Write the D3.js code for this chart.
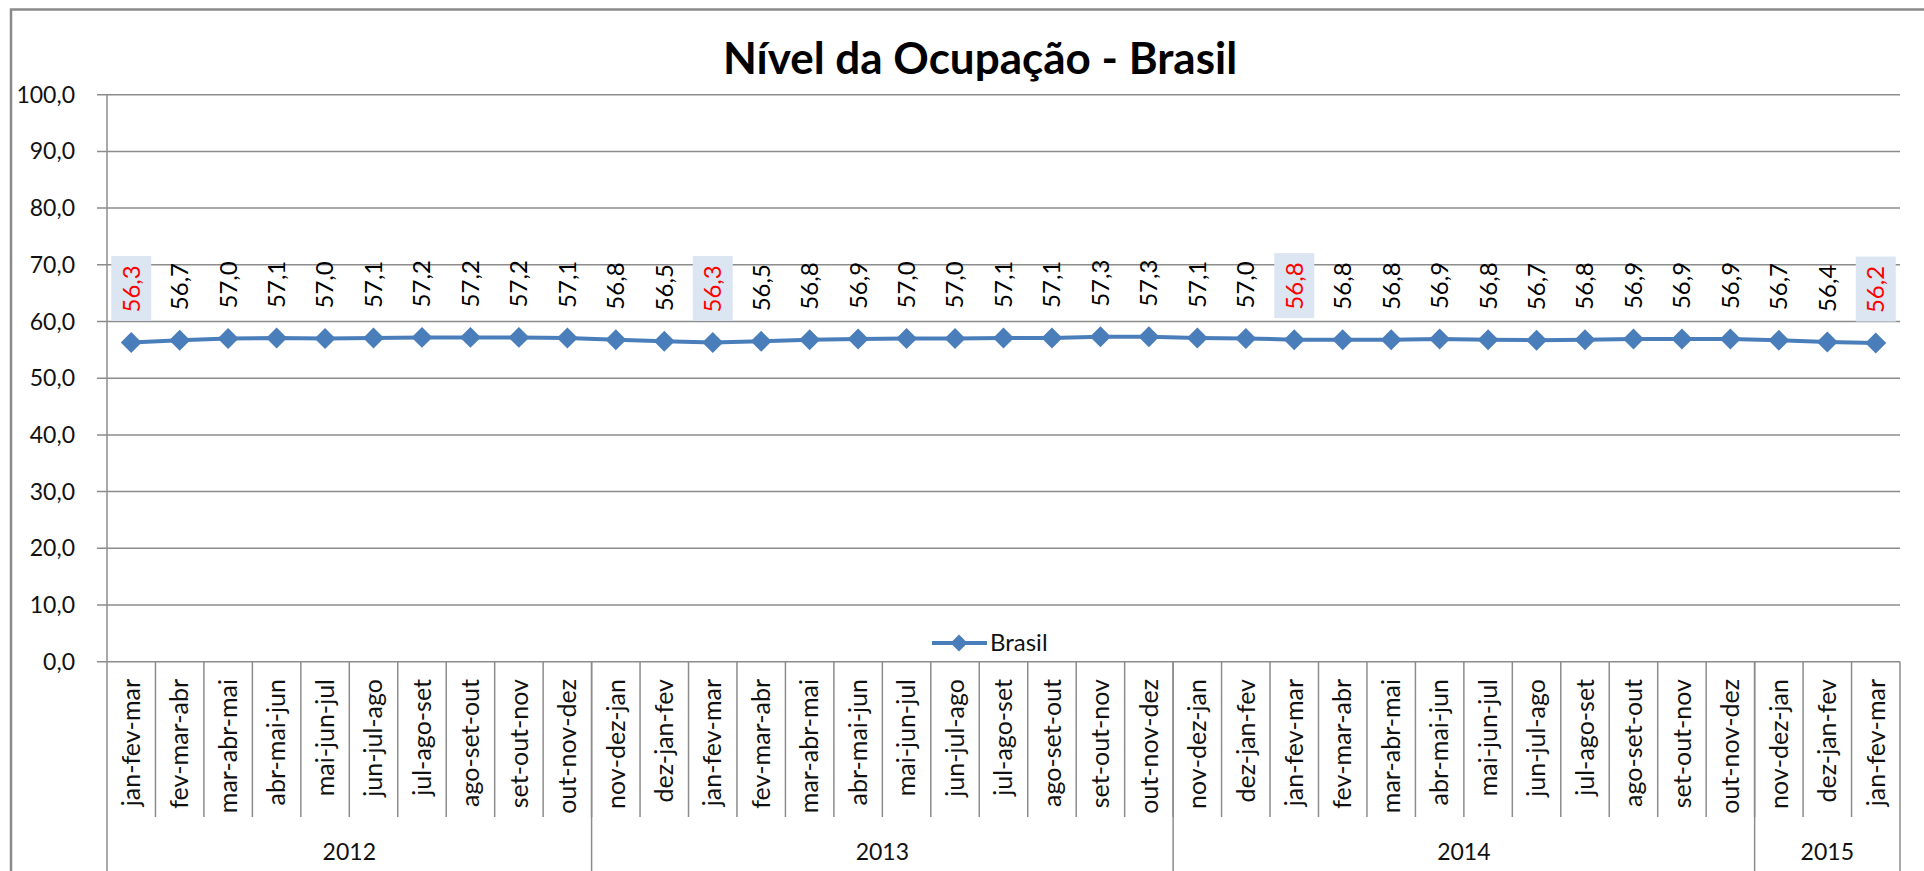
<!DOCTYPE html>
<html>
<head>
    <meta charset="utf-8">
    <title>Nível da Ocupação - Brasil</title>
    <script src="https://d3js.org/d3.v7.min.js"></script>
    <style>
        body { margin: 0; background: #fff; }
        svg { display: block; font-family: Lato, "Open Sans", sans-serif; }
        .grid line { stroke: #8c8c8c; stroke-width: 1.5px; }
        .ylabel { font-size: 23px; fill: #111; }
        .catlabel { font-size: 25px; fill: #111; }
        .yearlabel { font-size: 23px; fill: #111; }
        .vlabel { font-size: 24px; }
    </style>
</head>
<body>
<div id="chart"></div>
<script>
    // dados
    const categorias = [
        "jan-fev-mar", "fev-mar-abr", "mar-abr-mai", "abr-mai-jun", "mai-jun-jul", "jun-jul-ago",
        "jul-ago-set", "ago-set-out", "set-out-nov", "out-nov-dez",
        "nov-dez-jan", "dez-jan-fev", "jan-fev-mar", "fev-mar-abr", "mar-abr-mai", "abr-mai-jun",
        "mai-jun-jul", "jun-jul-ago", "jul-ago-set", "ago-set-out", "set-out-nov", "out-nov-dez",
        "nov-dez-jan", "dez-jan-fev", "jan-fev-mar", "fev-mar-abr", "mar-abr-mai", "abr-mai-jun",
        "mai-jun-jul", "jun-jul-ago", "jul-ago-set", "ago-set-out", "set-out-nov", "out-nov-dez",
        "nov-dez-jan", "dez-jan-fev", "jan-fev-mar"
    ];
    const brasil = [
        56.3, 56.7, 57.0, 57.1, 57.0, 57.1, 57.2, 57.2, 57.2, 57.1,
        56.8, 56.5, 56.3, 56.5, 56.8, 56.9, 57.0, 57.0, 57.1, 57.1, 57.3, 57.3,
        57.1, 57.0, 56.8, 56.8, 56.8, 56.9, 56.8, 56.7, 56.8, 56.9, 56.9, 56.9,
        56.7, 56.4, 56.2
    ];
    const anos = ["2012", "2013", "2014", "2015"];
    const mesesPorAno = [10, 12, 12, 3];
    const destaques = [0, 12, 24, 36];
    const yTicks = [0, 10, 20, 30, 40, 50, 60, 70, 80, 90, 100];

    const W = 1924, H = 871;
    const plotLeft = 107, plotRight = 1900, plotTop = 94.7, plotBottom = 661.7;
    const azul = "#4a7ebb";
    const fmt = v => d3.format(".1f")(v).replace(".", ",");

    const svg = d3.select("#chart").append("svg")
        .attr("width", W)
        .attr("height", H);

    // moldura do gráfico
    svg.append("rect")
        .attr("x", 11).attr("y", 9.5)
        .attr("width", 1940).attr("height", 900)
        .attr("fill", "#fff")
        .attr("stroke", "#8a8a8a")
        .attr("stroke-width", 2.5);

    // título
    svg.append("text")
        .attr("x", 980).attr("y", 74)
        .attr("text-anchor", "middle")
        .style("font-size", "44px")
        .style("font-weight", "bold")
        .text("Nível da Ocupação - Brasil");

    const x = d3.scaleBand()
        .domain(d3.range(categorias.length))
        .range([plotLeft, plotRight]);

    const y = d3.scaleLinear()
        .domain([0, 100])
        .range([plotBottom, plotTop]);

    const cx = i => x(i) + x.bandwidth() / 2;

    // linhas de grade
    const grid = svg.append("g").attr("class", "grid");
    grid.selectAll("line.h")
        .data(yTicks)
        .join("line")
        .attr("class", "h")
        .attr("x1", plotLeft - 10).attr("x2", plotRight)
        .attr("y1", d => y(d)).attr("y2", d => y(d));

    svg.selectAll("text.ylabel")
        .data(yTicks)
        .join("text")
        .attr("class", "ylabel")
        .attr("x", 75)
        .attr("y", d => y(d))
        .attr("dy", "0.35em")
        .attr("text-anchor", "end")
        .text(d => fmt(d));

    // eixo vertical
    grid.append("line")
        .attr("x1", plotLeft).attr("x2", plotLeft)
        .attr("y1", plotTop).attr("y2", H);

    // divisões das categorias
    grid.selectAll("line.cat")
        .data(d3.range(1, categorias.length))
        .join("line")
        .attr("class", "cat")
        .attr("x1", d => x(d)).attr("x2", d => x(d))
        .attr("y1", plotBottom).attr("y2", 817);

    // divisões dos anos
    const inicioAno = Array.from(d3.cumsum([0, ...mesesPorAno]));
    const xLim = i => i < categorias.length ? x(i) : plotRight;
    grid.selectAll("line.ano")
        .data(inicioAno.slice(1))
        .join("line")
        .attr("class", "ano")
        .attr("x1", d => xLim(d)).attr("x2", d => xLim(d))
        .attr("y1", plotBottom).attr("y2", H);

    // rótulos das categorias
    svg.selectAll("text.catlabel")
        .data(categorias)
        .join("text")
        .attr("class", "catlabel")
        .attr("transform", (d, i) => `translate(${cx(i)},679) rotate(-90)`)
        .attr("dy", "0.35em")
        .attr("text-anchor", "end")
        .text(d => d);

    // rótulos dos anos
    svg.selectAll("text.yearlabel")
        .data(anos)
        .join("text")
        .attr("class", "yearlabel")
        .attr("x", (d, i) => (xLim(inicioAno[i]) + xLim(inicioAno[i + 1])) / 2)
        .attr("y", 860)
        .attr("text-anchor", "middle")
        .text(d => d);

    // linha da série
    const line = d3.line()
        .x((d, i) => cx(i))
        .y(d => y(d));

    svg.append("path")
        .datum(brasil)
        .attr("fill", "none")
        .attr("stroke", azul)
        .attr("stroke-width", 4)
        .attr("d", line);

    const diamante = d3.symbol().type(d3.symbolSquare).size(220);
    svg.selectAll("path.marker")
        .data(brasil)
        .join("path")
        .attr("class", "marker")
        .attr("d", diamante)
        .attr("fill", azul)
        .attr("transform", (d, i) => `translate(${cx(i)},${y(d)}) rotate(45)`);

    // fundo dos rótulos destacados
    svg.selectAll("rect.destaque")
        .data(destaques)
        .join("rect")
        .attr("class", "destaque")
        .attr("x", i => cx(i) - 20)
        .attr("y", i => y(brasil[i]) - 86.5)
        .attr("width", 40)
        .attr("height", 65)
        .attr("fill", "#dce6f2");

    // rótulos de valores
    svg.selectAll("text.vlabel")
        .data(brasil)
        .join("text")
        .attr("class", "vlabel")
        .attr("transform", (d, i) => `translate(${cx(i)},${y(d) - 30}) rotate(-90)`)
        .attr("dy", "0.35em")
        .attr("fill", (d, i) => destaques.includes(i) ? "#ff0000" : "#000")
        .text(d => fmt(d));

    // legenda
    const legenda = svg.append("g");
    legenda.append("line")
        .attr("x1", 932).attr("x2", 987)
        .attr("y1", 643).attr("y2", 643)
        .attr("stroke", azul)
        .attr("stroke-width", 4);
    legenda.append("path")
        .attr("d", d3.symbol().type(d3.symbolSquare).size(144))
        .attr("fill", azul)
        .attr("transform", "translate(959,643) rotate(45)");
    legenda.append("text")
        .attr("x", 990).attr("y", 643)
        .attr("dy", "0.35em")
        .style("font-size", "24px")
        .attr("fill", "#111")
        .text("Brasil");
</script>
</body>
</html>
